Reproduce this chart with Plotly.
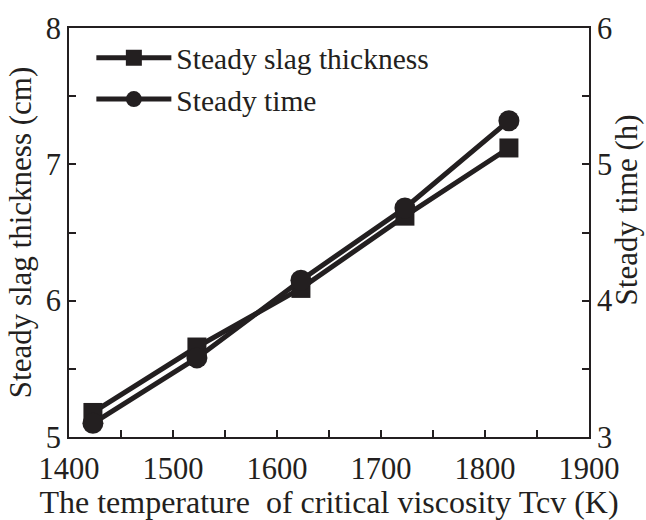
import plotly.graph_objects as go

temps = [1423, 1523, 1623, 1723, 1823]
slag_thickness = [5.18, 5.66, 6.09, 6.62, 7.12]
steady_time = [3.10, 3.58, 4.15, 4.68, 5.32]

x_ticks = [1400, 1500, 1600, 1700, 1800, 1900]
y1_ticks = [5, 6, 7, 8]
y2_ticks = [3, 4, 5, 6]

ink = "#231f20"
font = "Liberation Serif, Times New Roman, serif"

fig = go.Figure()
fig.add_trace(go.Scatter(
    x=temps, y=slag_thickness, name="Steady slag thickness",
    mode="lines+markers",
    line=dict(color=ink, width=5),
    marker=dict(symbol="square", size=19, color=ink),
    yaxis="y"))
fig.add_trace(go.Scatter(
    x=temps, y=steady_time, name="Steady time",
    mode="lines+markers",
    line=dict(color=ink, width=5),
    marker=dict(symbol="circle", size=21, color=ink),
    yaxis="y2"))

axis_common = dict(
    showline=True, linecolor=ink, linewidth=2,
    ticks="inside", ticklen=7, tickwidth=1.5, tickcolor=ink,
    showgrid=False, zeroline=False,
    tickfont=dict(family=font, size=30.5, color=ink),
)

fig.update_layout(
    width=646, height=520,
    margin=dict(l=69, r=57, t=25, b=77),
    paper_bgcolor="white", plot_bgcolor="white",
    font=dict(family=font, color=ink),
    xaxis=dict(
        range=[1400, 1900], tickvals=x_ticks, mirror=True, ticklabelstandoff=3,
        minor=dict(ticks="inside", ticklen=7, tickwidth=1.5, tickcolor=ink, dtick=50, tick0=1400),
        title=dict(text="The temperature  of critical viscosity Tcv (K)",
                   font=dict(family=font, size=32, color=ink), standoff=0),
        **axis_common),
    yaxis=dict(
        range=[5, 8], tickvals=y1_ticks,
        minor=dict(ticks="inside", ticklen=7, tickwidth=1.5, tickcolor=ink, dtick=0.5, tick0=5),
        title=dict(text="Steady slag thickness (cm)",
                   font=dict(family=font, size=31, color=ink), standoff=5),
        **axis_common),
    yaxis2=dict(
        range=[3, 6], tickvals=y2_ticks, overlaying="y", side="right",
        minor=dict(ticks="inside", ticklen=7, tickwidth=1.5, tickcolor=ink, dtick=0.5, tick0=3),
        **axis_common),
    legend=dict(
        x=0.043, y=0.99, xanchor="left", yanchor="top",
        bgcolor="rgba(0,0,0,0)",
        font=dict(family=font, size=29.5, color=ink),
        itemwidth=75, tracegroupgap=2,
    ),
    annotations=[dict(
        text="Steady time (h)", textangle=-90,
        xref="paper", yref="paper", x=1.072, y=0.555,
        xanchor="center", yanchor="middle", showarrow=False,
        font=dict(family=font, size=31, color=ink),
    )],
    showlegend=True,
)

fig.write_html("out.html")
